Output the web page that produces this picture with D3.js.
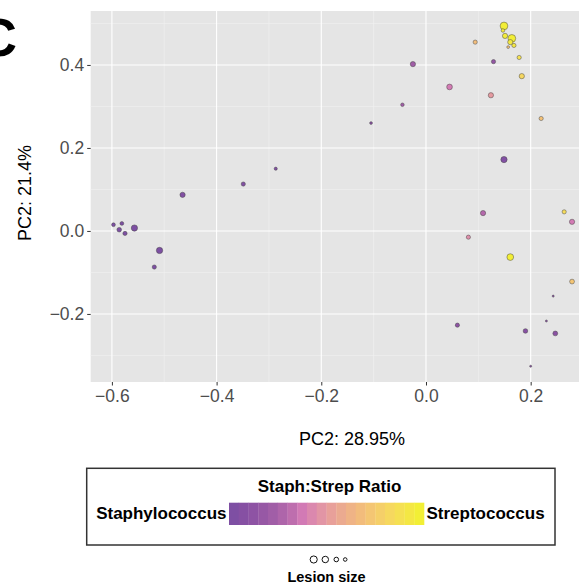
<!DOCTYPE html>
<html>
<head>
<meta charset="utf-8">
<script src="https://cdn.jsdelivr.net/npm/d3@7"></script>
<style>
  body { margin: 0; background: #fff; }
  text { font-family: "Liberation Sans", Arial, sans-serif; }
</style>
</head>
<body>
<div id="chart"></div>
<script>
// PCA scores, one entry per sample
let pc1 = [0.149, 0.147, 0.151, 0.164, 0.161, 0.168, 0.157, 0.094, -0.025, 0.129,
           0.178, 0.183, 0.045, 0.124, -0.045, 0.220, -0.105, -0.287, -0.349, -0.465,
           0.149, 0.109, 0.264, 0.279, 0.081, -0.597, -0.581, -0.586, -0.575, -0.557,
           -0.509, -0.519, 0.161, 0.279, 0.243, 0.230, 0.060, 0.190, 0.247, 0.200];
let pc2 = [0.494, 0.483, 0.470, 0.464, 0.455, 0.447, 0.443, 0.455, 0.402, 0.408,
           0.418, 0.373, 0.347, 0.327, 0.304, 0.271, 0.260, 0.150, 0.113, 0.087,
           0.172, 0.043, 0.046, 0.022, -0.015, 0.015, 0.018, 0.003, -0.006, 0.007,
           -0.047, -0.087, -0.063, -0.122, -0.157, -0.217, -0.227, -0.241, -0.247, -0.326];
// 0 = all Staphylococcus, 1 = all Streptococcus
let ratio = [0.97, 0.95, 0.95, 0.97, 0.93, 0.92, 0.70, 0.68, 0.22, 0.15,
             0.88, 0.82, 0.38, 0.50, 0.22, 0.70, 0.10, 0.05, 0.05, 0.05,
             0.05, 0.30, 0.85, 0.38, 0.45, 0.02, 0.02, 0.02, 0.02, 0.02,
             0.02, 0.02, 0.97, 0.72, 0.10, 0.10, 0.12, 0.08, 0.10, 0.10];
let lesion = [85, 18, 39, 85, 39, 25, 11, 25, 39, 25,
              25, 39, 46, 39, 18, 25, 11, 14, 25, 39,
              56, 39, 25, 39, 25, 20, 20, 30, 25, 56,
              56, 25, 64, 33, 6, 6, 25, 30, 33, 6];

let xTicks = [-0.6, -0.4, -0.2, 0.0, 0.2];
let yTicks = [-0.2, 0.0, 0.2, 0.4];
let lesionKey = [80, 66, 33, 20];

let width = 579, height = 586;
let panel = {left: 90.7, top: 11, right: 579, bottom: 382};

let svg = d3.select('#chart').append('svg')
    .attr('width', width)
    .attr('height', height);

svg.append('rect').attr('width', width).attr('height', height).attr('fill', '#fff');

let x = d3.scaleLinear().domain([-0.6405, 0.2923]).range([panel.left, panel.right]);
let y = d3.scaleLinear().domain([-0.364, 0.530]).range([panel.bottom, panel.top]);
let r = d3.scaleSqrt().domain([0, 100]).range([0, 4.2]);

let colour = d3.scaleLinear()
    .domain([0, 0.1, 0.2, 0.3, 0.375, 0.45, 0.525, 0.6, 0.675, 0.75, 0.85, 0.975, 1])
    .range(['#7a4ea3', '#8a51a3', '#9b5aa5', '#b468ab', '#d27ab5', '#df8fab', '#e8a09a',
            '#edaf8b', '#f2bc7c', '#f5cb6e', '#f6dc5a', '#f2ef35', '#f2ef35']);

// panel + grid
svg.append('rect')
    .attr('x', panel.left).attr('y', panel.top)
    .attr('width', panel.right - panel.left).attr('height', panel.bottom - panel.top)
    .attr('fill', '#e5e5e5');

let minorX = [-0.5, -0.3, -0.1, 0.1];
let minorY = [-0.3, -0.1, 0.1, 0.3, 0.5];

svg.selectAll('line.minx').data(minorX).enter().append('line')
    .attr('x1', d => x(d)).attr('x2', d => x(d))
    .attr('y1', panel.top).attr('y2', panel.bottom)
    .attr('stroke', '#f2f2f2').attr('stroke-width', 0.6);
svg.selectAll('line.miny').data(minorY).enter().append('line')
    .attr('y1', d => y(d)).attr('y2', d => y(d))
    .attr('x1', panel.left).attr('x2', panel.right)
    .attr('stroke', '#f2f2f2').attr('stroke-width', 0.6);
svg.selectAll('line.majx').data(xTicks).enter().append('line')
    .attr('x1', d => x(d)).attr('x2', d => x(d))
    .attr('y1', panel.top).attr('y2', panel.bottom)
    .attr('stroke', '#fff').attr('stroke-width', 1.1);
svg.selectAll('line.majy').data(yTicks).enter().append('line')
    .attr('y1', d => y(d)).attr('y2', d => y(d))
    .attr('x1', panel.left).attr('x2', panel.right)
    .attr('stroke', '#fff').attr('stroke-width', 1.1);

// axes
let fmt = d => d3.format('.1f')(d).replace('-', '\u2212');

let xAxis = svg.append('g')
    .attr('transform', `translate(0,${panel.bottom})`)
    .call(d3.axisBottom(x).tickValues(xTicks).tickFormat(fmt).tickSize(3.5).tickPadding(4));
let yAxis = svg.append('g')
    .attr('transform', `translate(${panel.left},0)`)
    .call(d3.axisLeft(y).tickValues(yTicks).tickFormat(fmt).tickSize(3.5).tickPadding(3));

[xAxis, yAxis].forEach(a => {
  a.select('.domain').remove();
  a.selectAll('.tick line').attr('stroke', '#333');
  a.selectAll('.tick text')
    .attr('fill', '#4d4d4d')
    .style('font-size', '17.5px')
    .style('font-family', '"Liberation Sans", Arial, sans-serif');
});

svg.append('text')
    .attr('x', 352).attr('y', 445)
    .attr('text-anchor', 'middle')
    .style('font-size', '18px')
    .text('PC2: 28.95%');

svg.append('text')
    .attr('transform', 'translate(31,193) rotate(-90)')
    .attr('text-anchor', 'middle')
    .style('font-size', '18px')
    .text('PC2: 21.4%');

// panel tag, cut by the left edge as in the original figure
svg.append('text')
    .attr('x', -22).attr('y', 56)
    .style('font-size', '54px').style('font-weight', 'bold')
    .text('C');

// points
let samples = pc1.map((v, i) => ({pc1: v, pc2: pc2[i], ratio: ratio[i], lesion: lesion[i]}));

svg.append('g').selectAll('circle')
  .data(samples)
  .enter().append('circle')
    .attr('cx', d => x(d.pc1))
    .attr('cy', d => y(d.pc2))
    .attr('r', d => r(d.lesion))
    .attr('fill', d => colour(d.ratio))
    .attr('stroke', '#444')
    .attr('stroke-opacity', 0.8)
    .attr('stroke-width', 0.6);

// colour legend
let legend = {x: 86.7, y: 468.3, w: 468.3, h: 76.7};
svg.append('rect')
    .attr('x', legend.x).attr('y', legend.y)
    .attr('width', legend.w).attr('height', legend.h)
    .attr('fill', '#fff').attr('stroke', '#333').attr('stroke-width', 1.5);

svg.append('text')
    .attr('x', 329.5).attr('y', 491.5)
    .attr('text-anchor', 'middle')
    .style('font-size', '17px').style('font-weight', 'bold')
    .text('Staph:Strep Ratio');

let nBands = 20;
let bar = d3.scaleLinear().domain([0, nBands]).range([229, 424]);
svg.append('g').selectAll('rect')
  .data(d3.range(nBands))
  .enter().append('rect')
    .attr('x', d => bar(d))
    .attr('y', 502.7)
    .attr('width', bar(1) - bar(0) + 0.3)
    .attr('height', 22.3)
    .attr('fill', d => colour((d + 0.5) / nBands));

svg.append('text')
    .attr('x', 226.5).attr('y', 518.5)
    .attr('text-anchor', 'end')
    .style('font-size', '17px').style('font-weight', 'bold')
    .text('Staphylococcus');
svg.append('text')
    .attr('x', 426.5).attr('y', 518.5)
    .style('font-size', '17px').style('font-weight', 'bold')
    .text('Streptococcus');

// size legend
let keyX = [313.7, 325.3, 336.3, 345.2];
svg.append('g').selectAll('circle')
  .data(lesionKey)
  .enter().append('circle')
    .attr('cx', (d, i) => keyX[i])
    .attr('cy', 559.5)
    .attr('r', d => r(d) * 0.95)
    .attr('fill', '#fff')
    .attr('stroke', '#111')
    .attr('stroke-width', 1);

svg.append('text')
    .attr('x', 326.5).attr('y', 582)
    .attr('text-anchor', 'middle')
    .style('font-size', '14.5px').style('font-weight', 'bold')
    .text('Lesion size');
</script>
</body>
</html>
